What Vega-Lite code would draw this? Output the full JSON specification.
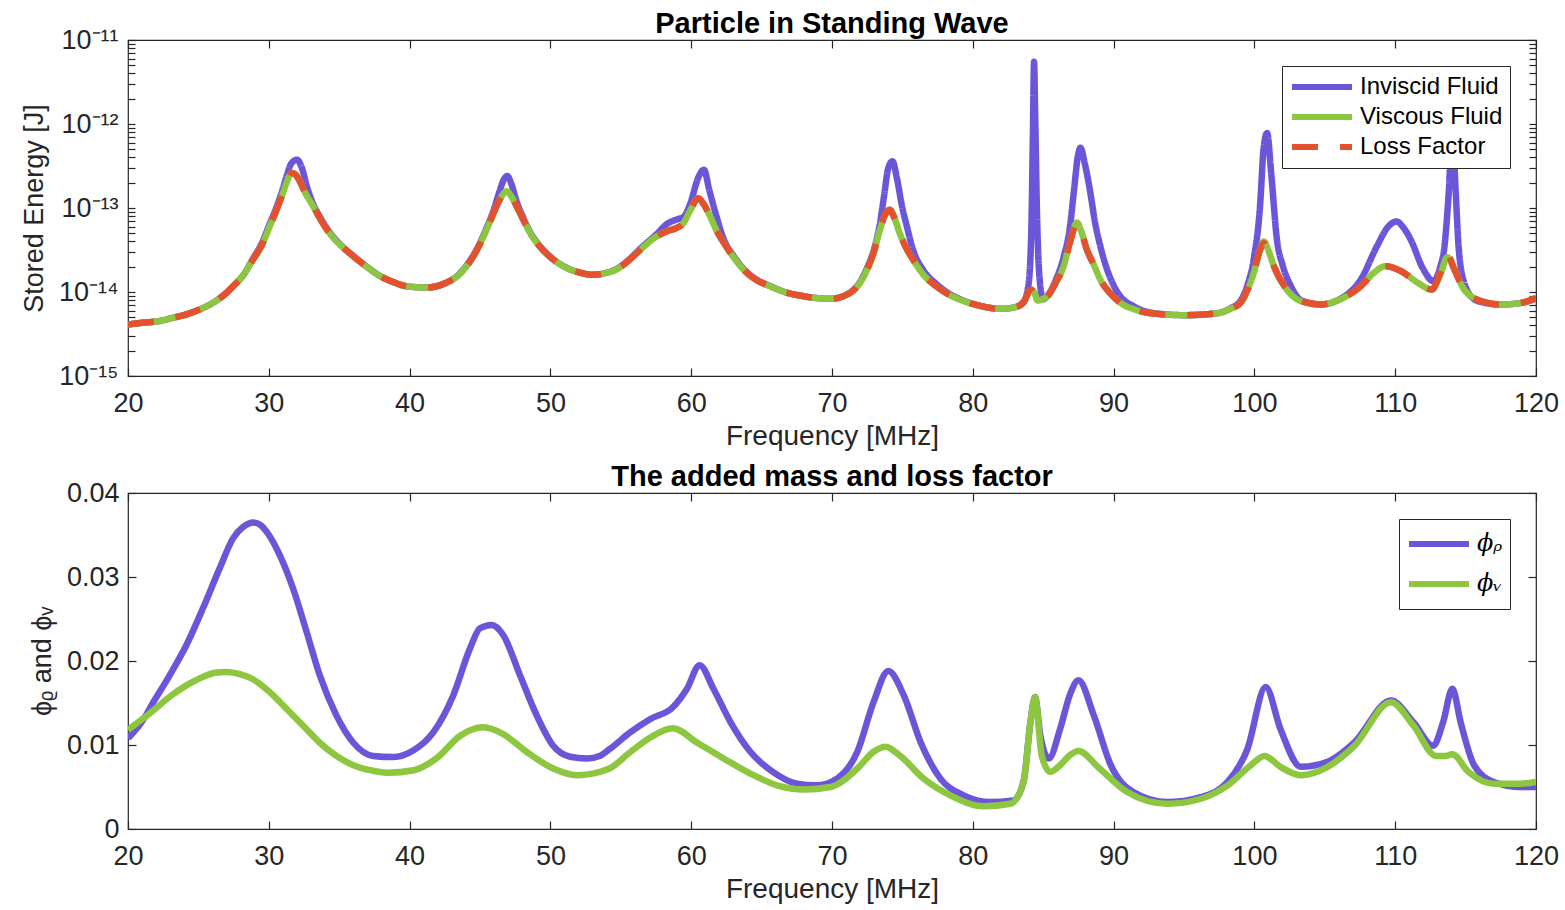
{
  "$schema": "https://vega.github.io/schema/vega-lite/v6.json",
  "background": "white",
  "padding": {"left": 19, "top": 9, "right": 5, "bottom": 2},
  "spacing": 11,
  "resolve": {"scale": {"color": "independent", "strokeDash": "independent"}, "legend": {"color": "independent", "strokeDash": "independent"}},
  "config": {
    "view": {"stroke": "#262626", "strokeWidth": 1.2},
    "font": "Liberation Sans",
    "axis": {"grid": false, "domain": false, "tickColor": "#262626", "tickWidth": 1.2, "labelColor": "#262626", "titleColor": "#262626", "labelFont": "Liberation Sans", "titleFont": "Liberation Sans", "labelFontSize": 27, "titleFontSize": 27, "titleFontWeight": "normal"},
    "title": {"font": "Liberation Sans", "fontSize": 29, "fontWeight": "bold", "color": "black", "offset": -13}
  },
  "datasets": {
    "energy": [
      {"f":20,"v":4.1e-15,"s":"Viscous Fluid"},{"f":21,"v":4.3e-15,"s":"Viscous Fluid"},{"f":22.25,"v":4.52e-15,"s":"Viscous Fluid"},{"f":23,"v":4.85e-15,"s":"Viscous Fluid"},{"f":24.15,"v":5.42e-15,"s":"Viscous Fluid"},{"f":25,"v":6.1e-15,"s":"Viscous Fluid"},{"f":26.04,"v":7.46e-15,"s":"Viscous Fluid"},{"f":27,"v":9.8e-15,"s":"Viscous Fluid"},{"f":27.46,"v":1.17e-14,"s":"Viscous Fluid"},{"f":28.2,"v":1.6e-14,"s":"Viscous Fluid"},{"f":28.88,"v":2.44e-14,"s":"Viscous Fluid"},{"f":29.5,"v":3.6e-14,"s":"Viscous Fluid"},{"f":30.07,"v":6.07e-14,"s":"Viscous Fluid"},{"f":30.6,"v":1.0e-13,"s":"Viscous Fluid"},{"f":31.0,"v":1.51e-13,"s":"Viscous Fluid"},{"f":31.35,"v":2.2e-13,"s":"Viscous Fluid"},{"f":31.6,"v":2.61e-13,"s":"Viscous Fluid"},{"f":31.9,"v":2.5e-13,"s":"Viscous Fluid"},{"f":32.2,"v":2.08e-13,"s":"Viscous Fluid"},{"f":32.6,"v":1.5e-13,"s":"Viscous Fluid"},{"f":33.15,"v":1.05e-13,"s":"Viscous Fluid"},{"f":33.7,"v":7.2e-14,"s":"Viscous Fluid"},{"f":34.3,"v":5.06e-14,"s":"Viscous Fluid"},{"f":35.1,"v":3.6e-14,"s":"Viscous Fluid"},{"f":36.0,"v":2.67e-14,"s":"Viscous Fluid"},{"f":37.0,"v":1.97e-14,"s":"Viscous Fluid"},{"f":37.9,"v":1.55e-14,"s":"Viscous Fluid"},{"f":38.8,"v":1.32e-14,"s":"Viscous Fluid"},{"f":39.8,"v":1.17e-14,"s":"Viscous Fluid"},{"f":41.2,"v":1.13e-14,"s":"Viscous Fluid"},{"f":42.6,"v":1.29e-14,"s":"Viscous Fluid"},{"f":43.4,"v":1.55e-14,"s":"Viscous Fluid"},{"f":44.05,"v":2.03e-14,"s":"Viscous Fluid"},{"f":44.8,"v":3.2e-14,"s":"Viscous Fluid"},{"f":45.47,"v":5.53e-14,"s":"Viscous Fluid"},{"f":46.0,"v":9.0e-14,"s":"Viscous Fluid"},{"f":46.4,"v":1.26e-13,"s":"Viscous Fluid"},{"f":46.9,"v":1.58e-13,"s":"Viscous Fluid"},{"f":47.25,"v":1.35e-13,"s":"Viscous Fluid"},{"f":47.6,"v":1.05e-13,"s":"Viscous Fluid"},{"f":48.05,"v":7.4e-14,"s":"Viscous Fluid"},{"f":48.55,"v":5.06e-14,"s":"Viscous Fluid"},{"f":49.3,"v":3.4e-14,"s":"Viscous Fluid"},{"f":50.2,"v":2.44e-14,"s":"Viscous Fluid"},{"f":51.1,"v":1.95e-14,"s":"Viscous Fluid"},{"f":52.1,"v":1.7e-14,"s":"Viscous Fluid"},{"f":53.0,"v":1.6e-14,"s":"Viscous Fluid"},{"f":54.0,"v":1.7e-14,"s":"Viscous Fluid"},{"f":54.7,"v":1.86e-14,"s":"Viscous Fluid"},{"f":55.6,"v":2.4e-14,"s":"Viscous Fluid"},{"f":56.4,"v":3.2e-14,"s":"Viscous Fluid"},{"f":57.55,"v":4.6e-14,"s":"Viscous Fluid"},{"f":58.3,"v":5.3e-14,"s":"Viscous Fluid"},{"f":58.97,"v":5.8e-14,"s":"Viscous Fluid"},{"f":59.45,"v":6.6e-14,"s":"Viscous Fluid"},{"f":59.95,"v":9.5e-14,"s":"Viscous Fluid"},{"f":60.5,"v":1.31e-13,"s":"Viscous Fluid"},{"f":60.9,"v":1.1e-13,"s":"Viscous Fluid"},{"f":61.35,"v":7.9e-14,"s":"Viscous Fluid"},{"f":61.8,"v":5.4e-14,"s":"Viscous Fluid"},{"f":62.3,"v":3.9e-14,"s":"Viscous Fluid"},{"f":63.0,"v":2.6e-14,"s":"Viscous Fluid"},{"f":63.7,"v":1.86e-14,"s":"Viscous Fluid"},{"f":64.6,"v":1.4e-14,"s":"Viscous Fluid"},{"f":65.6,"v":1.17e-14,"s":"Viscous Fluid"},{"f":66.8,"v":9.8e-15,"s":"Viscous Fluid"},{"f":68.0,"v":8.9e-15,"s":"Viscous Fluid"},{"f":69.9,"v":8.3e-15,"s":"Viscous Fluid"},{"f":71.3,"v":9.8e-15,"s":"Viscous Fluid"},{"f":72.0,"v":1.3e-14,"s":"Viscous Fluid"},{"f":72.5,"v":1.86e-14,"s":"Viscous Fluid"},{"f":73.0,"v":3.1e-14,"s":"Viscous Fluid"},{"f":73.4,"v":5.5e-14,"s":"Viscous Fluid"},{"f":73.8,"v":8.5e-14,"s":"Viscous Fluid"},{"f":74.1,"v":9.5e-14,"s":"Viscous Fluid"},{"f":74.45,"v":7.5e-14,"s":"Viscous Fluid"},{"f":74.8,"v":5.06e-14,"s":"Viscous Fluid"},{"f":75.25,"v":3.4e-14,"s":"Viscous Fluid"},{"f":75.75,"v":2.44e-14,"s":"Viscous Fluid"},{"f":76.5,"v":1.6e-14,"s":"Viscous Fluid"},{"f":77.4,"v":1.17e-14,"s":"Viscous Fluid"},{"f":78.3,"v":9.3e-15,"s":"Viscous Fluid"},{"f":79.35,"v":7.8e-15,"s":"Viscous Fluid"},{"f":80.6,"v":6.8e-15,"s":"Viscous Fluid"},{"f":81.95,"v":6.3e-15,"s":"Viscous Fluid"},{"f":83.0,"v":6.6e-15,"s":"Viscous Fluid"},{"f":83.6,"v":7.5e-15,"s":"Viscous Fluid"},{"f":84.1,"v":1.05e-14,"s":"Viscous Fluid"},{"f":84.35,"v":1.0e-14,"s":"Viscous Fluid"},{"f":84.6,"v":7.9e-15,"s":"Viscous Fluid"},{"f":85.0,"v":8.3e-15,"s":"Viscous Fluid"},{"f":85.3,"v":8.9e-15,"s":"Viscous Fluid"},{"f":85.9,"v":1.3e-14,"s":"Viscous Fluid"},{"f":86.45,"v":2.03e-14,"s":"Viscous Fluid"},{"f":86.9,"v":3.9e-14,"s":"Viscous Fluid"},{"f":87.4,"v":6.7e-14,"s":"Viscous Fluid"},{"f":87.7,"v":5.3e-14,"s":"Viscous Fluid"},{"f":88.1,"v":3.2e-14,"s":"Viscous Fluid"},{"f":88.6,"v":2.1e-14,"s":"Viscous Fluid"},{"f":89.06,"v":1.4e-14,"s":"Viscous Fluid"},{"f":89.8,"v":9.5e-15,"s":"Viscous Fluid"},{"f":90.5,"v":7.4e-15,"s":"Viscous Fluid"},{"f":91.5,"v":6.2e-15,"s":"Viscous Fluid"},{"f":92.6,"v":5.6e-15,"s":"Viscous Fluid"},{"f":95.0,"v":5.3e-15,"s":"Viscous Fluid"},{"f":97.4,"v":5.6e-15,"s":"Viscous Fluid"},{"f":98.3,"v":6.3e-15,"s":"Viscous Fluid"},{"f":99.0,"v":7.4e-15,"s":"Viscous Fluid"},{"f":99.5,"v":1.05e-14,"s":"Viscous Fluid"},{"f":99.96,"v":1.7e-14,"s":"Viscous Fluid"},{"f":100.35,"v":3.0e-14,"s":"Viscous Fluid"},{"f":100.67,"v":4.0e-14,"s":"Viscous Fluid"},{"f":101.0,"v":3.1e-14,"s":"Viscous Fluid"},{"f":101.4,"v":2.0e-14,"s":"Viscous Fluid"},{"f":102.3,"v":1.07e-14,"s":"Viscous Fluid"},{"f":103.3,"v":7.8e-15,"s":"Viscous Fluid"},{"f":104.7,"v":7.1e-15,"s":"Viscous Fluid"},{"f":106.1,"v":8.2e-15,"s":"Viscous Fluid"},{"f":107.55,"v":1.17e-14,"s":"Viscous Fluid"},{"f":108.5,"v":1.7e-14,"s":"Viscous Fluid"},{"f":109.3,"v":2.03e-14,"s":"Viscous Fluid"},{"f":110.4,"v":1.78e-14,"s":"Viscous Fluid"},{"f":111.6,"v":1.29e-14,"s":"Viscous Fluid"},{"f":112.6,"v":1.07e-14,"s":"Viscous Fluid"},{"f":113.2,"v":1.6e-14,"s":"Viscous Fluid"},{"f":113.7,"v":2.6e-14,"s":"Viscous Fluid"},{"f":114.2,"v":1.86e-14,"s":"Viscous Fluid"},{"f":114.9,"v":1.07e-14,"s":"Viscous Fluid"},{"f":116.1,"v":7.8e-15,"s":"Viscous Fluid"},{"f":117.5,"v":7.1e-15,"s":"Viscous Fluid"},{"f":118.9,"v":7.4e-15,"s":"Viscous Fluid"},{"f":120,"v":8.5e-15,"s":"Viscous Fluid"},

      {"f":20,"v":4.1e-15,"s":"Loss Factor"},{"f":21,"v":4.3e-15,"s":"Loss Factor"},{"f":22.25,"v":4.52e-15,"s":"Loss Factor"},{"f":23,"v":4.85e-15,"s":"Loss Factor"},{"f":24.15,"v":5.42e-15,"s":"Loss Factor"},{"f":25,"v":6.1e-15,"s":"Loss Factor"},{"f":26.04,"v":7.46e-15,"s":"Loss Factor"},{"f":27,"v":9.8e-15,"s":"Loss Factor"},{"f":27.46,"v":1.17e-14,"s":"Loss Factor"},{"f":28.2,"v":1.6e-14,"s":"Loss Factor"},{"f":28.88,"v":2.44e-14,"s":"Loss Factor"},{"f":29.5,"v":3.6e-14,"s":"Loss Factor"},{"f":30.07,"v":6.07e-14,"s":"Loss Factor"},{"f":30.6,"v":1.0e-13,"s":"Loss Factor"},{"f":31.0,"v":1.51e-13,"s":"Loss Factor"},{"f":31.35,"v":2.2e-13,"s":"Loss Factor"},{"f":31.6,"v":2.61e-13,"s":"Loss Factor"},{"f":31.9,"v":2.5e-13,"s":"Loss Factor"},{"f":32.2,"v":2.08e-13,"s":"Loss Factor"},{"f":32.6,"v":1.5e-13,"s":"Loss Factor"},{"f":33.15,"v":1.05e-13,"s":"Loss Factor"},{"f":33.7,"v":7.2e-14,"s":"Loss Factor"},{"f":34.3,"v":5.06e-14,"s":"Loss Factor"},{"f":35.1,"v":3.6e-14,"s":"Loss Factor"},{"f":36.0,"v":2.67e-14,"s":"Loss Factor"},{"f":37.0,"v":1.97e-14,"s":"Loss Factor"},{"f":37.9,"v":1.55e-14,"s":"Loss Factor"},{"f":38.8,"v":1.32e-14,"s":"Loss Factor"},{"f":39.8,"v":1.17e-14,"s":"Loss Factor"},{"f":41.2,"v":1.13e-14,"s":"Loss Factor"},{"f":42.6,"v":1.29e-14,"s":"Loss Factor"},{"f":43.4,"v":1.55e-14,"s":"Loss Factor"},{"f":44.05,"v":2.03e-14,"s":"Loss Factor"},{"f":44.8,"v":3.2e-14,"s":"Loss Factor"},{"f":45.47,"v":5.53e-14,"s":"Loss Factor"},{"f":46.0,"v":9.0e-14,"s":"Loss Factor"},{"f":46.4,"v":1.26e-13,"s":"Loss Factor"},{"f":46.9,"v":1.58e-13,"s":"Loss Factor"},{"f":47.25,"v":1.35e-13,"s":"Loss Factor"},{"f":47.6,"v":1.05e-13,"s":"Loss Factor"},{"f":48.05,"v":7.4e-14,"s":"Loss Factor"},{"f":48.55,"v":5.06e-14,"s":"Loss Factor"},{"f":49.3,"v":3.4e-14,"s":"Loss Factor"},{"f":50.2,"v":2.44e-14,"s":"Loss Factor"},{"f":51.1,"v":1.95e-14,"s":"Loss Factor"},{"f":52.1,"v":1.7e-14,"s":"Loss Factor"},{"f":53.0,"v":1.6e-14,"s":"Loss Factor"},{"f":54.0,"v":1.7e-14,"s":"Loss Factor"},{"f":54.7,"v":1.86e-14,"s":"Loss Factor"},{"f":55.6,"v":2.4e-14,"s":"Loss Factor"},{"f":56.4,"v":3.2e-14,"s":"Loss Factor"},{"f":57.55,"v":4.6e-14,"s":"Loss Factor"},{"f":58.3,"v":5.3e-14,"s":"Loss Factor"},{"f":58.97,"v":5.8e-14,"s":"Loss Factor"},{"f":59.45,"v":6.6e-14,"s":"Loss Factor"},{"f":59.95,"v":9.5e-14,"s":"Loss Factor"},{"f":60.5,"v":1.31e-13,"s":"Loss Factor"},{"f":60.9,"v":1.1e-13,"s":"Loss Factor"},{"f":61.35,"v":7.9e-14,"s":"Loss Factor"},{"f":61.8,"v":5.4e-14,"s":"Loss Factor"},{"f":62.3,"v":3.9e-14,"s":"Loss Factor"},{"f":63.0,"v":2.6e-14,"s":"Loss Factor"},{"f":63.7,"v":1.86e-14,"s":"Loss Factor"},{"f":64.6,"v":1.4e-14,"s":"Loss Factor"},{"f":65.6,"v":1.17e-14,"s":"Loss Factor"},{"f":66.8,"v":9.8e-15,"s":"Loss Factor"},{"f":68.0,"v":8.9e-15,"s":"Loss Factor"},{"f":69.9,"v":8.3e-15,"s":"Loss Factor"},{"f":71.3,"v":9.8e-15,"s":"Loss Factor"},{"f":72.0,"v":1.3e-14,"s":"Loss Factor"},{"f":72.5,"v":1.86e-14,"s":"Loss Factor"},{"f":73.0,"v":3.1e-14,"s":"Loss Factor"},{"f":73.4,"v":5.5e-14,"s":"Loss Factor"},{"f":73.8,"v":8.5e-14,"s":"Loss Factor"},{"f":74.1,"v":9.5e-14,"s":"Loss Factor"},{"f":74.45,"v":7.5e-14,"s":"Loss Factor"},{"f":74.8,"v":5.06e-14,"s":"Loss Factor"},{"f":75.25,"v":3.4e-14,"s":"Loss Factor"},{"f":75.75,"v":2.44e-14,"s":"Loss Factor"},{"f":76.5,"v":1.6e-14,"s":"Loss Factor"},{"f":77.4,"v":1.17e-14,"s":"Loss Factor"},{"f":78.3,"v":9.3e-15,"s":"Loss Factor"},{"f":79.35,"v":7.8e-15,"s":"Loss Factor"},{"f":80.6,"v":6.8e-15,"s":"Loss Factor"},{"f":81.95,"v":6.3e-15,"s":"Loss Factor"},{"f":83.0,"v":6.6e-15,"s":"Loss Factor"},{"f":83.6,"v":7.5e-15,"s":"Loss Factor"},{"f":84.1,"v":1.07e-14,"s":"Loss Factor"},{"f":84.35,"v":1.0e-14,"s":"Loss Factor"},{"f":84.6,"v":7.8e-15,"s":"Loss Factor"},{"f":85.0,"v":8.3e-15,"s":"Loss Factor"},{"f":85.3,"v":8.9e-15,"s":"Loss Factor"},{"f":85.9,"v":1.3e-14,"s":"Loss Factor"},{"f":86.45,"v":2.03e-14,"s":"Loss Factor"},{"f":86.9,"v":3.9e-14,"s":"Loss Factor"},{"f":87.4,"v":6.5e-14,"s":"Loss Factor"},{"f":87.7,"v":5.3e-14,"s":"Loss Factor"},{"f":88.1,"v":3.2e-14,"s":"Loss Factor"},{"f":88.6,"v":2.1e-14,"s":"Loss Factor"},{"f":89.06,"v":1.4e-14,"s":"Loss Factor"},{"f":89.8,"v":9.5e-15,"s":"Loss Factor"},{"f":90.5,"v":7.4e-15,"s":"Loss Factor"},{"f":91.5,"v":6.2e-15,"s":"Loss Factor"},{"f":92.6,"v":5.6e-15,"s":"Loss Factor"},{"f":95.0,"v":5.3e-15,"s":"Loss Factor"},{"f":97.4,"v":5.6e-15,"s":"Loss Factor"},{"f":98.3,"v":6.3e-15,"s":"Loss Factor"},{"f":99.0,"v":7.4e-15,"s":"Loss Factor"},{"f":99.5,"v":1.05e-14,"s":"Loss Factor"},{"f":99.96,"v":1.7e-14,"s":"Loss Factor"},{"f":100.35,"v":3.0e-14,"s":"Loss Factor"},{"f":100.67,"v":3.8e-14,"s":"Loss Factor"},{"f":101.0,"v":3.1e-14,"s":"Loss Factor"},{"f":101.4,"v":2.0e-14,"s":"Loss Factor"},{"f":102.3,"v":1.07e-14,"s":"Loss Factor"},{"f":103.3,"v":7.8e-15,"s":"Loss Factor"},{"f":104.7,"v":7.1e-15,"s":"Loss Factor"},{"f":106.1,"v":8.2e-15,"s":"Loss Factor"},{"f":107.55,"v":1.17e-14,"s":"Loss Factor"},{"f":108.5,"v":1.7e-14,"s":"Loss Factor"},{"f":109.3,"v":2.03e-14,"s":"Loss Factor"},{"f":110.4,"v":1.78e-14,"s":"Loss Factor"},{"f":111.6,"v":1.29e-14,"s":"Loss Factor"},{"f":112.6,"v":1.07e-14,"s":"Loss Factor"},{"f":113.2,"v":1.7e-14,"s":"Loss Factor"},{"f":113.7,"v":2.8e-14,"s":"Loss Factor"},{"f":114.2,"v":1.86e-14,"s":"Loss Factor"},{"f":114.9,"v":1.07e-14,"s":"Loss Factor"},{"f":116.1,"v":7.8e-15,"s":"Loss Factor"},{"f":117.5,"v":7.1e-15,"s":"Loss Factor"},{"f":118.9,"v":7.4e-15,"s":"Loss Factor"},{"f":120,"v":8.5e-15,"s":"Loss Factor"},

      {"f":20,"v":4.1e-15,"s":"Inviscid Fluid"},{"f":21,"v":4.3e-15,"s":"Inviscid Fluid"},{"f":22.25,"v":4.52e-15,"s":"Inviscid Fluid"},{"f":23,"v":4.85e-15,"s":"Inviscid Fluid"},{"f":24.15,"v":5.42e-15,"s":"Inviscid Fluid"},{"f":25,"v":6.1e-15,"s":"Inviscid Fluid"},{"f":26.04,"v":7.46e-15,"s":"Inviscid Fluid"},{"f":27,"v":9.8e-15,"s":"Inviscid Fluid"},{"f":27.46,"v":1.17e-14,"s":"Inviscid Fluid"},{"f":28.2,"v":1.6e-14,"s":"Inviscid Fluid"},{"f":28.88,"v":2.5e-14,"s":"Inviscid Fluid"},{"f":29.5,"v":3.8e-14,"s":"Inviscid Fluid"},{"f":30.07,"v":6.5e-14,"s":"Inviscid Fluid"},{"f":30.6,"v":1.08e-13,"s":"Inviscid Fluid"},{"f":31.0,"v":1.7e-13,"s":"Inviscid Fluid"},{"f":31.3,"v":2.5e-13,"s":"Inviscid Fluid"},{"f":31.6,"v":3.4e-13,"s":"Inviscid Fluid"},{"f":32.0,"v":3.76e-13,"s":"Inviscid Fluid"},{"f":32.35,"v":3.0e-13,"s":"Inviscid Fluid"},{"f":32.7,"v":1.82e-13,"s":"Inviscid Fluid"},{"f":33.15,"v":1.12e-13,"s":"Inviscid Fluid"},{"f":33.7,"v":7.5e-14,"s":"Inviscid Fluid"},{"f":34.3,"v":5.2e-14,"s":"Inviscid Fluid"},{"f":35.1,"v":3.65e-14,"s":"Inviscid Fluid"},{"f":36.0,"v":2.7e-14,"s":"Inviscid Fluid"},{"f":37.0,"v":1.98e-14,"s":"Inviscid Fluid"},{"f":37.9,"v":1.55e-14,"s":"Inviscid Fluid"},{"f":38.8,"v":1.32e-14,"s":"Inviscid Fluid"},{"f":39.8,"v":1.17e-14,"s":"Inviscid Fluid"},{"f":41.2,"v":1.13e-14,"s":"Inviscid Fluid"},{"f":42.6,"v":1.29e-14,"s":"Inviscid Fluid"},{"f":43.4,"v":1.56e-14,"s":"Inviscid Fluid"},{"f":44.05,"v":2.08e-14,"s":"Inviscid Fluid"},{"f":44.8,"v":3.3e-14,"s":"Inviscid Fluid"},{"f":45.47,"v":5.8e-14,"s":"Inviscid Fluid"},{"f":46.0,"v":9.8e-14,"s":"Inviscid Fluid"},{"f":46.4,"v":1.6e-13,"s":"Inviscid Fluid"},{"f":46.7,"v":2.2e-13,"s":"Inviscid Fluid"},{"f":46.94,"v":2.4e-13,"s":"Inviscid Fluid"},{"f":47.2,"v":2.0e-13,"s":"Inviscid Fluid"},{"f":47.6,"v":1.2e-13,"s":"Inviscid Fluid"},{"f":48.05,"v":7.8e-14,"s":"Inviscid Fluid"},{"f":48.55,"v":5.2e-14,"s":"Inviscid Fluid"},{"f":49.3,"v":3.45e-14,"s":"Inviscid Fluid"},{"f":50.2,"v":2.46e-14,"s":"Inviscid Fluid"},{"f":51.1,"v":1.96e-14,"s":"Inviscid Fluid"},{"f":52.1,"v":1.7e-14,"s":"Inviscid Fluid"},{"f":53.0,"v":1.6e-14,"s":"Inviscid Fluid"},{"f":54.0,"v":1.7e-14,"s":"Inviscid Fluid"},{"f":54.7,"v":1.88e-14,"s":"Inviscid Fluid"},{"f":55.6,"v":2.45e-14,"s":"Inviscid Fluid"},{"f":56.4,"v":3.3e-14,"s":"Inviscid Fluid"},{"f":57.55,"v":4.9e-14,"s":"Inviscid Fluid"},{"f":58.3,"v":6.5e-14,"s":"Inviscid Fluid"},{"f":58.97,"v":7.3e-14,"s":"Inviscid Fluid"},{"f":59.45,"v":7.8e-14,"s":"Inviscid Fluid"},{"f":59.95,"v":1.15e-13,"s":"Inviscid Fluid"},{"f":60.5,"v":2.3e-13,"s":"Inviscid Fluid"},{"f":60.9,"v":2.85e-13,"s":"Inviscid Fluid"},{"f":61.3,"v":1.6e-13,"s":"Inviscid Fluid"},{"f":61.8,"v":7.9e-14,"s":"Inviscid Fluid"},{"f":62.3,"v":4.3e-14,"s":"Inviscid Fluid"},{"f":63.0,"v":2.7e-14,"s":"Inviscid Fluid"},{"f":63.7,"v":1.9e-14,"s":"Inviscid Fluid"},{"f":64.6,"v":1.42e-14,"s":"Inviscid Fluid"},{"f":65.6,"v":1.18e-14,"s":"Inviscid Fluid"},{"f":66.8,"v":9.8e-15,"s":"Inviscid Fluid"},{"f":68.0,"v":8.9e-15,"s":"Inviscid Fluid"},{"f":69.9,"v":8.3e-15,"s":"Inviscid Fluid"},{"f":71.3,"v":9.9e-15,"s":"Inviscid Fluid"},{"f":72.0,"v":1.33e-14,"s":"Inviscid Fluid"},{"f":72.5,"v":1.95e-14,"s":"Inviscid Fluid"},{"f":73.0,"v":3.3e-14,"s":"Inviscid Fluid"},{"f":73.4,"v":6.5e-14,"s":"Inviscid Fluid"},{"f":73.7,"v":1.4e-13,"s":"Inviscid Fluid"},{"f":74.0,"v":3.0e-13,"s":"Inviscid Fluid"},{"f":74.3,"v":3.6e-13,"s":"Inviscid Fluid"},{"f":74.6,"v":2.3e-13,"s":"Inviscid Fluid"},{"f":75.0,"v":1.0e-13,"s":"Inviscid Fluid"},{"f":75.3,"v":6.2e-14,"s":"Inviscid Fluid"},{"f":75.75,"v":3.2e-14,"s":"Inviscid Fluid"},{"f":76.5,"v":1.8e-14,"s":"Inviscid Fluid"},{"f":77.4,"v":1.25e-14,"s":"Inviscid Fluid"},{"f":78.3,"v":9.6e-15,"s":"Inviscid Fluid"},{"f":79.35,"v":7.9e-15,"s":"Inviscid Fluid"},{"f":80.6,"v":6.8e-15,"s":"Inviscid Fluid"},{"f":81.95,"v":6.3e-15,"s":"Inviscid Fluid"},{"f":83.0,"v":6.6e-15,"s":"Inviscid Fluid"},{"f":83.6,"v":7.6e-15,"s":"Inviscid Fluid"},{"f":83.95,"v":1.2e-14,"s":"Inviscid Fluid"},{"f":84.15,"v":5e-14,"s":"Inviscid Fluid"},{"f":84.27,"v":8e-13,"s":"Inviscid Fluid"},{"f":84.35,"v":5.5e-12,"s":"Inviscid Fluid"},{"f":84.43,"v":1.3e-12,"s":"Inviscid Fluid"},{"f":84.55,"v":1e-13,"s":"Inviscid Fluid"},{"f":84.75,"v":1.4e-14,"s":"Inviscid Fluid"},{"f":85.0,"v":8.2e-15,"s":"Inviscid Fluid"},{"f":85.3,"v":9.0e-15,"s":"Inviscid Fluid"},{"f":85.9,"v":1.4e-14,"s":"Inviscid Fluid"},{"f":86.45,"v":2.6e-14,"s":"Inviscid Fluid"},{"f":86.9,"v":6.0e-14,"s":"Inviscid Fluid"},{"f":87.2,"v":1.7e-13,"s":"Inviscid Fluid"},{"f":87.45,"v":4.0e-13,"s":"Inviscid Fluid"},{"f":87.65,"v":5.2e-13,"s":"Inviscid Fluid"},{"f":87.95,"v":3.4e-13,"s":"Inviscid Fluid"},{"f":88.3,"v":1.7e-13,"s":"Inviscid Fluid"},{"f":88.7,"v":6.5e-14,"s":"Inviscid Fluid"},{"f":89.06,"v":3.5e-14,"s":"Inviscid Fluid"},{"f":90.0,"v":1.2e-14,"s":"Inviscid Fluid"},{"f":90.5,"v":8.8e-15,"s":"Inviscid Fluid"},{"f":91.4,"v":6.8e-15,"s":"Inviscid Fluid"},{"f":92.6,"v":5.7e-15,"s":"Inviscid Fluid"},{"f":95.0,"v":5.3e-15,"s":"Inviscid Fluid"},{"f":97.4,"v":5.6e-15,"s":"Inviscid Fluid"},{"f":98.3,"v":6.4e-15,"s":"Inviscid Fluid"},{"f":99.0,"v":7.8e-15,"s":"Inviscid Fluid"},{"f":99.5,"v":1.2e-14,"s":"Inviscid Fluid"},{"f":99.96,"v":2.5e-14,"s":"Inviscid Fluid"},{"f":100.4,"v":1.05e-13,"s":"Inviscid Fluid"},{"f":100.65,"v":5e-13,"s":"Inviscid Fluid"},{"f":100.9,"v":7.8e-13,"s":"Inviscid Fluid"},{"f":101.2,"v":2.5e-13,"s":"Inviscid Fluid"},{"f":101.6,"v":4.2e-14,"s":"Inviscid Fluid"},{"f":102.0,"v":2.1e-14,"s":"Inviscid Fluid"},{"f":102.6,"v":1.17e-14,"s":"Inviscid Fluid"},{"f":103.3,"v":8.0e-15,"s":"Inviscid Fluid"},{"f":104.7,"v":7.1e-15,"s":"Inviscid Fluid"},{"f":106.1,"v":8.3e-15,"s":"Inviscid Fluid"},{"f":107.55,"v":1.4e-14,"s":"Inviscid Fluid"},{"f":108.7,"v":3.5e-14,"s":"Inviscid Fluid"},{"f":109.5,"v":6.0e-14,"s":"Inviscid Fluid"},{"f":110.1,"v":6.9e-14,"s":"Inviscid Fluid"},{"f":110.6,"v":5.8e-14,"s":"Inviscid Fluid"},{"f":111.1,"v":4.2e-14,"s":"Inviscid Fluid"},{"f":112.0,"v":1.86e-14,"s":"Inviscid Fluid"},{"f":112.7,"v":1.35e-14,"s":"Inviscid Fluid"},{"f":113.2,"v":2.0e-14,"s":"Inviscid Fluid"},{"f":113.5,"v":3.5e-14,"s":"Inviscid Fluid"},{"f":113.8,"v":1.5e-13,"s":"Inviscid Fluid"},{"f":114.06,"v":8e-13,"s":"Inviscid Fluid"},{"f":114.3,"v":1.5e-13,"s":"Inviscid Fluid"},{"f":114.5,"v":3.5e-14,"s":"Inviscid Fluid"},{"f":114.9,"v":1.3e-14,"s":"Inviscid Fluid"},{"f":115.6,"v":8.2e-15,"s":"Inviscid Fluid"},{"f":116.1,"v":7.6e-15,"s":"Inviscid Fluid"},{"f":117.5,"v":7.1e-15,"s":"Inviscid Fluid"},{"f":118.9,"v":7.4e-15,"s":"Inviscid Fluid"},{"f":120,"v":8.3e-15,"s":"Inviscid Fluid"}
    ],
    "phi": [
      {"f":20,"v":0.0108,"s":"rho"},{"f":21,"v":0.0128,"s":"rho"},{"f":21.8,"v":0.0151,"s":"rho"},{"f":22.96,"v":0.0183,"s":"rho"},{"f":24.15,"v":0.0219,"s":"rho"},{"f":25.33,"v":0.0263,"s":"rho"},{"f":26.5,"v":0.031,"s":"rho"},{"f":27.46,"v":0.0346,"s":"rho"},{"f":28.2,"v":0.036,"s":"rho"},{"f":28.9,"v":0.0365,"s":"rho"},{"f":29.4,"v":0.0362,"s":"rho"},{"f":29.84,"v":0.0354,"s":"rho"},{"f":30.78,"v":0.0326,"s":"rho"},{"f":31.73,"v":0.0286,"s":"rho"},{"f":32.68,"v":0.0235,"s":"rho"},{"f":33.62,"v":0.0183,"s":"rho"},{"f":34.81,"v":0.0135,"s":"rho"},{"f":35.99,"v":0.0103,"s":"rho"},{"f":37.41,"v":0.0087,"s":"rho"},{"f":38.83,"v":0.00856,"s":"rho"},{"f":40.26,"v":0.00934,"s":"rho"},{"f":41.68,"v":0.0115,"s":"rho"},{"f":43.1,"v":0.0159,"s":"rho"},{"f":44.29,"v":0.0215,"s":"rho"},{"f":45.0,"v":0.0239,"s":"rho"},{"f":45.83,"v":0.0243,"s":"rho"},{"f":46.65,"v":0.0231,"s":"rho"},{"f":47.84,"v":0.0183,"s":"rho"},{"f":49.03,"v":0.0135,"s":"rho"},{"f":50.2,"v":0.0099,"s":"rho"},{"f":51.4,"v":0.0086,"s":"rho"},{"f":52.6,"v":0.0084,"s":"rho"},{"f":53.5,"v":0.0087,"s":"rho"},{"f":54.2,"v":0.0095,"s":"rho"},{"f":55.66,"v":0.0115,"s":"rho"},{"f":57.1,"v":0.0131,"s":"rho"},{"f":58.7,"v":0.0145,"s":"rho"},{"f":59.7,"v":0.0167,"s":"rho"},{"f":60.6,"v":0.0195,"s":"rho"},{"f":61.58,"v":0.0167,"s":"rho"},{"f":62.8,"v":0.0127,"s":"rho"},{"f":64.2,"v":0.0092,"s":"rho"},{"f":65.8,"v":0.0068,"s":"rho"},{"f":67.5,"v":0.0054,"s":"rho"},{"f":68.9,"v":0.0052,"s":"rho"},{"f":70.35,"v":0.006,"s":"rho"},{"f":71.8,"v":0.0092,"s":"rho"},{"f":72.95,"v":0.0151,"s":"rho"},{"f":74.0,"v":0.0188,"s":"rho"},{"f":75.1,"v":0.0159,"s":"rho"},{"f":76.3,"v":0.0103,"s":"rho"},{"f":77.7,"v":0.006,"s":"rho"},{"f":79.35,"v":0.004,"s":"rho"},{"f":81.2,"v":0.0032,"s":"rho"},{"f":82.9,"v":0.0034,"s":"rho"},{"f":83.6,"v":0.0056,"s":"rho"},{"f":84.1,"v":0.0128,"s":"rho"},{"f":84.42,"v":0.0157,"s":"rho"},{"f":84.8,"v":0.0111,"s":"rho"},{"f":85.4,"v":0.0084,"s":"rho"},{"f":86.2,"v":0.0119,"s":"rho"},{"f":86.9,"v":0.016,"s":"rho"},{"f":87.5,"v":0.0177,"s":"rho"},{"f":88.6,"v":0.0135,"s":"rho"},{"f":89.8,"v":0.0076,"s":"rho"},{"f":91.4,"v":0.0044,"s":"rho"},{"f":93.8,"v":0.0032,"s":"rho"},{"f":96.2,"v":0.0038,"s":"rho"},{"f":98.1,"v":0.0056,"s":"rho"},{"f":99.5,"v":0.0095,"s":"rho"},{"f":100.8,"v":0.0169,"s":"rho"},{"f":101.85,"v":0.0119,"s":"rho"},{"f":103.3,"v":0.0074,"s":"rho"},{"f":105.2,"v":0.008,"s":"rho"},{"f":107.1,"v":0.0103,"s":"rho"},{"f":109.7,"v":0.0153,"s":"rho"},{"f":111.3,"v":0.0127,"s":"rho"},{"f":112.7,"v":0.0099,"s":"rho"},{"f":113.4,"v":0.0127,"s":"rho"},{"f":114.06,"v":0.0167,"s":"rho"},{"f":114.65,"v":0.0127,"s":"rho"},{"f":115.6,"v":0.0076,"s":"rho"},{"f":117.0,"v":0.0056,"s":"rho"},{"f":118.9,"v":0.005,"s":"rho"},{"f":120,"v":0.005,"s":"rho"},

      {"f":20,"v":0.0118,"s":"nu"},{"f":21.8,"v":0.0141,"s":"nu"},{"f":23.0,"v":0.0158,"s":"nu"},{"f":24.15,"v":0.0171,"s":"nu"},{"f":25.3,"v":0.0181,"s":"nu"},{"f":26.2,"v":0.0186,"s":"nu"},{"f":27.0,"v":0.0187,"s":"nu"},{"f":28.0,"v":0.0184,"s":"nu"},{"f":28.9,"v":0.0178,"s":"nu"},{"f":30.07,"v":0.0163,"s":"nu"},{"f":31.26,"v":0.0143,"s":"nu"},{"f":32.44,"v":0.0123,"s":"nu"},{"f":33.6,"v":0.0103,"s":"nu"},{"f":34.8,"v":0.0087,"s":"nu"},{"f":36.0,"v":0.0076,"s":"nu"},{"f":37.2,"v":0.007,"s":"nu"},{"f":38.4,"v":0.0067,"s":"nu"},{"f":40.3,"v":0.007,"s":"nu"},{"f":41.9,"v":0.0084,"s":"nu"},{"f":43.6,"v":0.0111,"s":"nu"},{"f":45.2,"v":0.0121,"s":"nu"},{"f":46.65,"v":0.0113,"s":"nu"},{"f":48.3,"v":0.0092,"s":"nu"},{"f":50.2,"v":0.0072,"s":"nu"},{"f":51.9,"v":0.0064,"s":"nu"},{"f":53.5,"v":0.0068,"s":"nu"},{"f":54.2,"v":0.0072,"s":"nu"},{"f":55.7,"v":0.0092,"s":"nu"},{"f":57.1,"v":0.0109,"s":"nu"},{"f":58.7,"v":0.012,"s":"nu"},{"f":60.4,"v":0.0103,"s":"nu"},{"f":62.3,"v":0.0084,"s":"nu"},{"f":64.2,"v":0.0066,"s":"nu"},{"f":66.1,"v":0.0052,"s":"nu"},{"f":68.0,"v":0.0047,"s":"nu"},{"f":69.9,"v":0.005,"s":"nu"},{"f":71.8,"v":0.0072,"s":"nu"},{"f":72.95,"v":0.0092,"s":"nu"},{"f":73.8,"v":0.0098,"s":"nu"},{"f":74.85,"v":0.0087,"s":"nu"},{"f":76.5,"v":0.006,"s":"nu"},{"f":78.4,"v":0.004,"s":"nu"},{"f":80.77,"v":0.0027,"s":"nu"},{"f":82.66,"v":0.003,"s":"nu"},{"f":83.6,"v":0.0056,"s":"nu"},{"f":84.1,"v":0.0128,"s":"nu"},{"f":84.42,"v":0.0157,"s":"nu"},{"f":84.9,"v":0.0087,"s":"nu"},{"f":85.5,"v":0.0068,"s":"nu"},{"f":86.2,"v":0.0076,"s":"nu"},{"f":86.9,"v":0.0088,"s":"nu"},{"f":87.5,"v":0.0093,"s":"nu"},{"f":89.0,"v":0.0072,"s":"nu"},{"f":90.96,"v":0.0044,"s":"nu"},{"f":93.8,"v":0.003,"s":"nu"},{"f":96.2,"v":0.0036,"s":"nu"},{"f":98.1,"v":0.0052,"s":"nu"},{"f":99.75,"v":0.0076,"s":"nu"},{"f":100.7,"v":0.0087,"s":"nu"},{"f":101.85,"v":0.0074,"s":"nu"},{"f":103.3,"v":0.0064,"s":"nu"},{"f":105.2,"v":0.0074,"s":"nu"},{"f":107.1,"v":0.0099,"s":"nu"},{"f":109.7,"v":0.0151,"s":"nu"},{"f":111.3,"v":0.0123,"s":"nu"},{"f":112.9,"v":0.0087,"s":"nu"},{"f":113.6,"v":0.0087,"s":"nu"},{"f":114.06,"v":0.0089,"s":"nu"},{"f":115.2,"v":0.0068,"s":"nu"},{"f":117.0,"v":0.0054,"s":"nu"},{"f":118.9,"v":0.0054,"s":"nu"},{"f":120,"v":0.0056,"s":"nu"}
    ]
  },
  "vconcat": [
    {
      "width": 1408,
      "height": 336,
      "title": {"text": "Particle in Standing Wave"},
      "data": {"name": "energy"},
      "layer": [
        {
          "encoding": {
            "x": {"field": "f", "type": "quantitative", "scale": {"domain": [20, 120], "nice": false, "zero": false},
                  "axis": {"orient": "bottom", "values": [20,30,40,50,60,70,80,90,100,110,120], "tickSize": -8, "labelPadding": 22, "title": "Frequency [MHz]", "titleFontSize": 28, "titlePadding": 6, "labelOverlap": false, "labelBound": false, "labelFlush": false}},
            "y": {"field": "v", "type": "quantitative", "scale": {"type": "log", "domain": [1e-15, 1e-11], "nice": false, "zero": false},
                  "axis": {"orient": "left", "values": [1e-15,2e-15,3e-15,4e-15,5e-15,6e-15,7e-15,8e-15,9e-15,1e-14,2e-14,3e-14,4e-14,5e-14,6e-14,7e-14,8e-14,9e-14,1e-13,2e-13,3e-13,4e-13,5e-13,6e-13,7e-13,8e-13,9e-13,1e-12,2e-12,3e-12,4e-12,5e-12,6e-12,7e-12,8e-12,9e-12,1e-11],
                           "labelExpr": "datum.value == 1e-11 ? '10⁻¹¹' : datum.value == 1e-12 ? '10⁻¹²' : datum.value == 1e-13 ? '10⁻¹³' : datum.value == 1e-14 ? '10⁻¹⁴' : datum.value == 1e-15 ? '10⁻¹⁵' : ''",
                           "tickSize": -7, "labelPadding": 17, "title": "Stored Energy [J]", "titlePadding": 10, "labelOverlap": false, "labelBound": false, "labelFlush": false}},
            "color": {"field": "s", "type": "nominal",
                      "scale": {"domain": ["Inviscid Fluid", "Viscous Fluid", "Loss Factor"], "range": ["#6B55D8", "#8DC63F", "#E4512F"]},
                      "legend": {"title": null, "orient": "top-right", "offset": 26, "padding": 7, "strokeColor": "#262626", "fillColor": "white", "symbolType": "stroke", "symbolSize": 3600, "symbolStrokeWidth": 6, "clipHeight": 28, "rowPadding": 2, "labelFontSize": 24, "labelFont": "Liberation Sans", "labelColor": "black", "labelOffset": 5, "labelLimit": 400}},
            "strokeDash": {"field": "s", "type": "nominal",
                      "scale": {"domain": ["Inviscid Fluid", "Viscous Fluid", "Loss Factor"], "range": [[1, 0], [1, 0], [26, 22]]},
                      "legend": {"title": null, "orient": "top-right", "offset": 26, "padding": 7, "strokeColor": "#262626", "fillColor": "white", "symbolType": "stroke", "symbolSize": 3600, "symbolStrokeWidth": 6, "clipHeight": 28, "rowPadding": 2, "labelFontSize": 24, "labelFont": "Liberation Sans", "labelColor": "black", "labelOffset": 5, "labelLimit": 400}}
          },
          "layer": [
            {"transform": [{"filter": "datum.s === 'Inviscid Fluid'"}], "mark": {"type": "line", "strokeWidth": 6.5, "interpolate": "monotone", "clip": true}},
            {"transform": [{"filter": "datum.s === 'Viscous Fluid'"}], "mark": {"type": "line", "strokeWidth": 6.5, "interpolate": "monotone", "clip": true}},
            {"transform": [{"filter": "datum.s === 'Loss Factor'"}], "mark": {"type": "line", "strokeWidth": 6.5, "interpolate": "monotone", "clip": true}}
          ]
        },
        {
          "mark": {"type": "point", "opacity": 0},
          "encoding": {
            "x": {"field": "f", "type": "quantitative", "axis": {"orient": "top", "values": [20,30,40,50,60,70,80,90,100,110,120], "tickSize": -8, "labels": false, "title": null}},
            "y": {"field": "v", "type": "quantitative", "axis": {"orient": "right", "values": [1e-15,2e-15,3e-15,4e-15,5e-15,6e-15,7e-15,8e-15,9e-15,1e-14,2e-14,3e-14,4e-14,5e-14,6e-14,7e-14,8e-14,9e-14,1e-13,2e-13,3e-13,4e-13,5e-13,6e-13,7e-13,8e-13,9e-13,1e-12,2e-12,3e-12,4e-12,5e-12,6e-12,7e-12,8e-12,9e-12,1e-11], "tickSize": -7, "labels": false, "title": null}}
          }
        }
      ],
      "resolve": {"axis": {"x": "independent", "y": "independent"}}
    },
    {
      "width": 1408,
      "height": 336,
      "title": {"text": "The added mass and loss factor"},
      "data": {"name": "phi"},
      "layer": [
        {
          "encoding": {
            "x": {"field": "f", "type": "quantitative", "scale": {"domain": [20, 120], "nice": false, "zero": false},
                  "axis": {"orient": "bottom", "values": [20,30,40,50,60,70,80,90,100,110,120], "tickSize": -8, "labelPadding": 22, "title": "Frequency [MHz]", "titleFontSize": 28, "titlePadding": 6, "labelOverlap": false, "labelBound": false, "labelFlush": false}},
            "y": {"field": "v", "type": "quantitative", "scale": {"domain": [0, 0.04], "nice": false},
                  "axis": {"orient": "left", "values": [0, 0.01, 0.02, 0.03, 0.04], "labelExpr": "datum.value == 0 ? '0' : format(datum.value, '.2f')", "tickSize": -8, "labelPadding": 17, "title": "ϕᵨ and ϕᵥ", "titlePadding": 10, "labelOverlap": false, "labelBound": false, "labelFlush": false}},
            "color": {"field": "s", "type": "nominal",
                      "scale": {"domain": ["rho", "nu"], "range": ["#6B55D8", "#8DC63F"]},
                      "legend": {"title": null, "orient": "top-right", "offset": 26, "padding": 7, "strokeColor": "#262626", "fillColor": "white", "symbolType": "stroke", "symbolSize": 3600, "symbolStrokeWidth": 6, "clipHeight": 36, "rowPadding": 4, "labelFontSize": 24, "labelFont": "DejaVu Serif", "labelFontStyle": "italic", "labelColor": "black", "labelOffset": 5, "labelExpr": "datum.label == 'rho' ? 'ϕᵨ' : 'ϕᵥ'"}}
          },
          "layer": [
            {"transform": [{"filter": "datum.s === 'rho'"}], "mark": {"type": "line", "strokeWidth": 6.5, "interpolate": "monotone", "clip": true}},
            {"transform": [{"filter": "datum.s === 'nu'"}], "mark": {"type": "line", "strokeWidth": 6.5, "interpolate": "monotone", "clip": true}}
          ]
        },
        {
          "mark": {"type": "point", "opacity": 0},
          "encoding": {
            "x": {"field": "f", "type": "quantitative", "axis": {"orient": "top", "values": [20,30,40,50,60,70,80,90,100,110,120], "tickSize": -8, "labels": false, "title": null}},
            "y": {"field": "v", "type": "quantitative", "axis": {"orient": "right", "values": [0, 0.01, 0.02, 0.03, 0.04], "tickSize": -8, "labels": false, "title": null}}
          }
        }
      ],
      "resolve": {"axis": {"x": "independent", "y": "independent"}}
    }
  ]
}
